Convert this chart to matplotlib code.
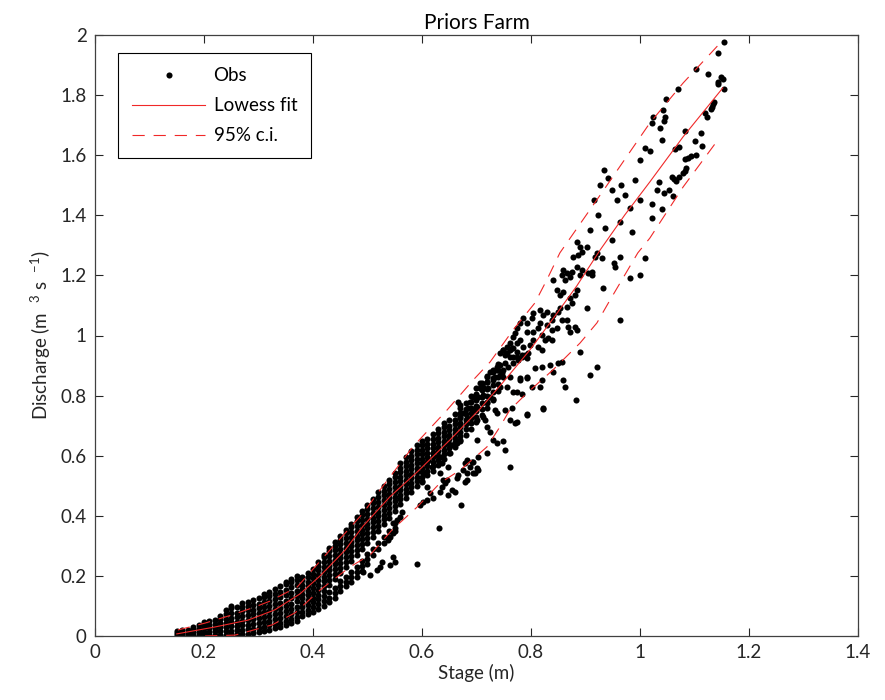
import numpy as np
import matplotlib
matplotlib.use("Agg")
import matplotlib.pyplot as plt

plt.rcParams['font.family'] = ['Lato', 'DejaVu Sans']
plt.rcParams['mathtext.default'] = 'regular'

# Gauged readings at the low end come in 1 cm stage steps: stage -> discharges
stripe_stage = [0.15, 0.16, 0.17, 0.18, 0.19, 0.20, 0.21, 0.22, 0.23, 0.24,
                0.25, 0.26, 0.27, 0.28, 0.29, 0.30, 0.31, 0.32, 0.33, 0.34,
                0.35, 0.36, 0.37, 0.38, 0.39, 0.40, 0.41, 0.42, 0.43, 0.44,
                0.45, 0.46, 0.47, 0.48, 0.49, 0.50, 0.51, 0.52, 0.53, 0.54,
                0.55]
stripe_q = [
    [0.002, 0.010, 0.018],
    [0.002, 0.010, 0.020],
    [0.002, 0.011, 0.021],
    [0.003, 0.012, 0.022, 0.030],
    [0.003, 0.013, 0.024, 0.035],
    [0.003, 0.014, 0.025, 0.036, 0.045],
    [0.003, 0.014, 0.026, 0.038, 0.050],
    [0.004, 0.015, 0.027, 0.040, 0.053],
    [0.004, 0.016, 0.029, 0.042, 0.056, 0.068],
    [0.004, 0.017, 0.030, 0.044, 0.058, 0.072, 0.088],
    [0.005, 0.018, 0.032, 0.046, 0.060, 0.075, 0.092, 0.100],
    [0.005, 0.019, 0.034, 0.048, 0.063, 0.078, 0.095],
    [0.006, 0.020, 0.035, 0.050, 0.066, 0.082, 0.098, 0.110],
    [0.008, 0.022, 0.037, 0.053, 0.069, 0.085, 0.100, 0.114],
    [0.010, 0.024, 0.040, 0.056, 0.072, 0.088, 0.104, 0.120],
    [0.013, 0.027, 0.043, 0.059, 0.076, 0.092, 0.108, 0.125],
    [0.017, 0.031, 0.047, 0.063, 0.080, 0.097, 0.113, 0.130, 0.140],
    [0.021, 0.035, 0.051, 0.067, 0.084, 0.101, 0.118, 0.134, 0.146],
    [0.025, 0.039, 0.055, 0.072, 0.089, 0.106, 0.123, 0.140, 0.155],
    [0.030, 0.044, 0.060, 0.077, 0.094, 0.111, 0.129, 0.147, 0.165],
    [0.035, 0.049, 0.065, 0.082, 0.100, 0.118, 0.136, 0.154, 0.172, 0.180],
    [0.042, 0.056, 0.072, 0.089, 0.107, 0.125, 0.143, 0.162, 0.180, 0.190],
    [0.050, 0.064, 0.080, 0.097, 0.115, 0.133, 0.151, 0.170, 0.188, 0.200],
    [0.065, 0.080, 0.095, 0.110, 0.125, 0.140, 0.155, 0.170, 0.185, 0.198],
    [0.072, 0.088, 0.104, 0.120, 0.135, 0.150, 0.165, 0.180, 0.195, 0.210],
    [0.080, 0.096, 0.112, 0.128, 0.144, 0.160, 0.176, 0.192, 0.207, 0.222],
    [0.090, 0.106, 0.122, 0.138, 0.154, 0.170, 0.186, 0.202, 0.218, 0.234, 0.245],
    [0.100, 0.116, 0.132, 0.150, 0.166, 0.182, 0.198, 0.214, 0.230, 0.246, 0.262, 0.270],
    [0.112, 0.128, 0.145, 0.170, 0.186, 0.202, 0.218, 0.234, 0.250, 0.266, 0.282, 0.292],
    [0.128, 0.144, 0.160, 0.190, 0.206, 0.222, 0.238, 0.254, 0.270, 0.286, 0.300, 0.312],
    [0.150, 0.166, 0.182, 0.210, 0.226, 0.242, 0.258, 0.274, 0.290, 0.306, 0.320, 0.332],
    [0.165, 0.181, 0.197, 0.230, 0.246, 0.262, 0.278, 0.294, 0.310, 0.326, 0.342, 0.352],
    [0.180, 0.196, 0.212, 0.250, 0.266, 0.282, 0.298, 0.314, 0.330, 0.346, 0.362, 0.374],
    [0.195, 0.212, 0.230, 0.270, 0.286, 0.302, 0.318, 0.334, 0.350, 0.366, 0.382, 0.395],
    [0.215, 0.232, 0.250, 0.290, 0.306, 0.322, 0.338, 0.354, 0.370, 0.386, 0.402, 0.415],
    [0.238, 0.255, 0.272, 0.310, 0.326, 0.342, 0.358, 0.374, 0.390, 0.406, 0.422, 0.436],
    [0.270, 0.290, 0.330, 0.346, 0.362, 0.378, 0.394, 0.410, 0.426, 0.442, 0.456],
    [0.290, 0.310, 0.350, 0.366, 0.382, 0.398, 0.414, 0.430, 0.446, 0.462, 0.478],
    [0.310, 0.330, 0.372, 0.388, 0.404, 0.420, 0.436, 0.452, 0.468, 0.484, 0.498],
    [0.330, 0.350, 0.394, 0.410, 0.426, 0.442, 0.458, 0.474, 0.490, 0.506, 0.520],
    [0.350, 0.375, 0.416, 0.432, 0.448, 0.464, 0.480, 0.496, 0.512, 0.528, 0.542],
]

# Core of the cloud between 0.56 and 0.74 m
band_stage = [0.56, 0.57, 0.58, 0.59, 0.60, 0.61, 0.62, 0.63, 0.64, 0.65,
              0.66, 0.67, 0.68, 0.69, 0.70, 0.71, 0.72, 0.73, 0.74]
band_q = [
    [0.440, 0.455, 0.470, 0.485, 0.500, 0.515, 0.530, 0.545, 0.560, 0.575],
    [0.460, 0.475, 0.490, 0.505, 0.520, 0.535, 0.550, 0.565, 0.580, 0.595],
    [0.480, 0.495, 0.510, 0.525, 0.540, 0.555, 0.570, 0.585, 0.600, 0.615],
    [0.500, 0.515, 0.530, 0.545, 0.560, 0.575, 0.590, 0.605, 0.620, 0.635],
    [0.515, 0.530, 0.545, 0.560, 0.575, 0.590, 0.605, 0.620, 0.635, 0.650],
    [0.535, 0.550, 0.565, 0.580, 0.595, 0.610, 0.625, 0.640, 0.655],
    [0.550, 0.565, 0.580, 0.595, 0.610, 0.625, 0.640, 0.655, 0.672],
    [0.570, 0.585, 0.600, 0.615, 0.630, 0.645, 0.660, 0.675, 0.690],
    [0.590, 0.605, 0.620, 0.635, 0.650, 0.665, 0.680, 0.695, 0.710],
    [0.610, 0.625, 0.640, 0.655, 0.670, 0.685, 0.700, 0.720],
    [0.630, 0.645, 0.660, 0.675, 0.690, 0.705, 0.720, 0.738],
    [0.650, 0.665, 0.680, 0.695, 0.710, 0.725, 0.742, 0.758],
    [0.670, 0.688, 0.705, 0.720, 0.738, 0.755, 0.775],
    [0.690, 0.708, 0.725, 0.742, 0.760, 0.780, 0.800],
    [0.712, 0.730, 0.748, 0.765, 0.785, 0.805, 0.825],
    [0.735, 0.755, 0.775, 0.795, 0.818, 0.840],
    [0.760, 0.780, 0.800, 0.822, 0.845, 0.865],
    [0.790, 0.812, 0.835, 0.858, 0.880],
    [0.815, 0.838, 0.862, 0.885, 0.905],
]

# Scattered observations (stage m, discharge m3/s)
mid_stage = [0.749, 0.756, 0.765, 0.774, 0.783, 0.776, 0.767, 0.761, 0.743, 0.752,
             0.738, 0.734, 0.725, 0.719, 0.710, 0.706, 0.721, 0.712, 0.703, 0.725,
             0.730, 0.719, 0.747, 0.780, 0.793, 0.774, 0.752, 0.761, 0.774, 0.694,
             0.688, 0.684, 0.694, 0.701, 0.675, 0.670, 0.683, 0.701, 0.712, 0.666,
             0.670, 0.719, 0.725, 0.730, 0.738, 0.752, 0.719, 0.703, 0.692, 0.688,
             0.683, 0.694, 0.703, 0.679, 0.670, 0.664, 0.655, 0.651, 0.633, 0.637,
             0.648, 0.633, 0.639, 0.620, 0.611, 0.618, 0.606, 0.600, 0.609, 0.761,
             0.822, 0.793, 0.771, 0.765, 0.767, 0.783, 0.749, 0.701, 0.716, 0.734,
             0.738, 0.683, 0.679, 0.694, 0.701, 0.697, 0.675, 0.666, 0.664, 0.683,
             0.646, 0.642, 0.637, 0.633, 0.655, 0.661, 0.648, 0.672, 0.615, 0.620,
             0.609, 0.602, 0.596, 0.631, 0.591, 0.563, 0.560, 0.554, 0.547, 0.550,
             0.547, 0.541, 0.538, 0.550, 0.547, 0.541, 0.527, 0.523, 0.517, 0.505,
             0.492]
mid_q = [0.952, 0.942, 0.958, 0.945, 0.935, 0.918, 0.928, 0.975, 0.902, 0.908,
         0.885, 0.862, 0.879, 0.845, 0.842, 0.825, 0.825, 0.802, 0.795, 0.795,
         0.785, 0.775, 0.875, 0.852, 0.859, 0.812, 0.752, 0.719, 0.712, 0.795,
         0.779, 0.759, 0.752, 0.762, 0.742, 0.729, 0.725, 0.719, 0.729, 0.779,
         0.769, 0.696, 0.679, 0.652, 0.642, 0.619, 0.609, 0.596, 0.579, 0.562,
         0.542, 0.542, 0.552, 0.512, 0.652, 0.642, 0.636, 0.609, 0.596, 0.576,
         0.562, 0.542, 0.519, 0.609, 0.586, 0.562, 0.542, 0.512, 0.496, 0.562,
         0.759, 0.739, 0.709, 0.759, 0.812, 0.805, 0.649, 0.652, 0.719, 0.752,
         0.742, 0.586, 0.576, 0.579, 0.559, 0.542, 0.552, 0.536, 0.526, 0.519,
         0.519, 0.509, 0.496, 0.479, 0.486, 0.479, 0.469, 0.436, 0.476, 0.459,
         0.453, 0.446, 0.436, 0.359, 0.240, 0.413, 0.396, 0.386, 0.376, 0.359,
         0.343, 0.329, 0.319, 0.246, 0.263, 0.236, 0.246, 0.230, 0.220, 0.203,
         0.213]

high_stage = [0.884, 0.890, 0.903, 0.894, 0.886, 0.921, 0.917, 0.930, 0.877, 0.859,
              0.866, 0.875, 0.884, 0.894, 0.890, 0.905, 0.912, 0.912, 0.857, 0.872,
              0.862, 0.840, 0.884, 0.881, 0.872, 0.875, 0.866, 0.853, 0.848, 0.859,
              0.932, 0.903, 0.963, 0.853, 0.850, 0.840, 0.839, 0.829, 0.822, 0.817,
              0.804, 0.802, 0.785, 0.793, 0.780, 0.774, 0.771, 0.767, 0.817, 0.829,
              0.839, 0.848, 0.857, 0.866, 0.868, 0.872, 0.884, 0.881, 0.793, 0.804,
              0.813, 0.820, 0.804, 0.798, 0.785, 0.813, 0.820, 0.826, 0.831, 0.839,
              0.780, 0.774, 0.767, 0.761, 0.756, 0.749, 0.743, 0.752, 0.761, 0.774,
              0.783, 0.789, 0.793, 0.794, 0.767, 0.758, 0.749, 0.738, 0.730, 0.743,
              0.749, 0.761, 0.780, 0.793, 0.802, 0.817, 0.820, 0.820, 0.835, 0.850,
              0.857, 0.840, 0.859, 0.862, 0.890, 0.908, 0.921, 0.719, 0.706, 0.712,
              0.730, 0.743, 0.756, 0.807, 0.982, 0.883, 0.822, 0.793, 0.963, 0.952,
              0.954]
high_q = [1.311, 1.294, 1.294, 1.278, 1.268, 1.275, 1.261, 1.258, 1.261, 1.218,
          1.208, 1.211, 1.228, 1.218, 1.201, 1.208, 1.211, 1.201, 1.201, 1.195,
          1.185, 1.185, 1.151, 1.135, 1.125, 1.108, 1.095, 1.135, 1.151, 1.145,
          1.158, 1.091, 1.052, 1.091, 1.078, 1.068, 1.052, 1.078, 1.068, 1.085,
          1.075, 1.058, 1.058, 1.042, 1.042, 1.025, 1.008, 0.995, 1.042, 1.035,
          1.018, 1.025, 1.052, 1.052, 1.028, 1.012, 1.018, 1.028, 1.012, 1.012,
          1.025, 1.002, 0.985, 0.968, 0.962, 0.962, 0.952, 0.985, 0.992, 0.985,
          0.985, 0.975, 0.958, 0.952, 0.962, 0.952, 0.942, 0.935, 0.928, 0.928,
          0.928, 0.935, 0.925, 0.942, 0.908, 0.895, 0.885, 0.895, 0.885, 0.869,
          0.862, 0.862, 0.859, 0.862, 0.829, 0.829, 0.852, 0.895, 0.902, 0.908,
          0.912, 0.879, 0.852, 0.829, 0.945, 0.869, 0.895, 0.862, 0.842, 0.829,
          0.852, 0.829, 0.829, 0.892, 1.191, 0.785, 0.755, 0.735, 1.261, 1.241,
          1.228]

top_stage = [0.927, 0.934, 0.941, 0.949, 0.958, 0.965, 0.972, 0.982, 0.991, 1.000,
             0.916, 0.923, 0.936, 0.949, 0.908, 0.963, 1.000, 1.009, 0.985, 1.000,
             1.009, 1.154, 1.143, 1.103, 1.125, 1.149, 1.152, 1.143, 1.143, 1.154,
             1.070, 1.048, 1.042, 1.024, 1.022, 1.046, 1.044, 1.037, 1.040, 1.136,
             1.134, 1.132, 1.130, 1.119, 1.123, 1.083, 1.112, 1.101, 1.114, 1.072,
             1.064, 1.103, 1.094, 1.088, 1.083, 1.084, 1.083, 1.079, 1.059, 1.062,
             1.066, 1.072, 1.035, 1.031, 1.044, 1.053, 1.061, 1.022, 1.022, 1.040,
             1.018]
top_q = [1.501, 1.551, 1.524, 1.484, 1.451, 1.501, 1.468, 1.424, 1.517, 1.451,
         1.451, 1.401, 1.358, 1.318, 1.351, 1.378, 1.584, 1.624, 1.344, 1.201,
         1.258, 1.977, 1.940, 1.887, 1.870, 1.860, 1.854, 1.844, 1.837, 1.820,
         1.820, 1.787, 1.750, 1.727, 1.707, 1.727, 1.714, 1.691, 1.651, 1.777,
         1.770, 1.760, 1.754, 1.740, 1.727, 1.681, 1.674, 1.647, 1.631, 1.627,
         1.621, 1.601, 1.597, 1.591, 1.587, 1.557, 1.547, 1.541, 1.527, 1.521,
         1.514, 1.527, 1.511, 1.484, 1.474, 1.484, 1.464, 1.438, 1.391, 1.421,
         1.614]

# Lowess rating curve and its 95% band
fit_stage = [0.150, 0.220, 0.281, 0.330, 0.376, 0.413, 0.459, 0.492, 0.541, 0.593,
             0.651, 0.706, 0.749, 0.798, 0.840, 0.884, 0.927, 0.972, 1.018, 1.079,
             1.152]
fit_q = [0.007, 0.030, 0.053, 0.087, 0.140, 0.200, 0.286, 0.366, 0.463, 0.549,
         0.652, 0.755, 0.845, 0.952, 1.055, 1.165, 1.285, 1.401, 1.511, 1.661,
         1.824]
ci_hi_stage = [0.152, 0.202, 0.251, 0.288, 0.321, 0.371, 0.431, 0.492, 0.523, 0.583,
               0.646, 0.694, 0.725, 0.767, 0.807, 0.829, 0.853, 0.936, 1.018, 1.079,
               1.147]
ci_hi_q = [0.020, 0.043, 0.070, 0.093, 0.116, 0.163, 0.286, 0.409, 0.486, 0.629,
           0.752, 0.852, 0.912, 1.018, 1.108, 1.185, 1.275, 1.491, 1.707, 1.840,
           1.973]
ci_lo_stage = [0.202, 0.257, 0.325, 0.367, 0.413, 0.468, 0.505, 0.545, 0.591, 0.633,
               0.670, 0.719, 0.743, 0.761, 0.793, 0.840, 0.890, 0.921, 0.945, 0.996,
               1.018, 1.079, 1.143]
ci_lo_q = [0.000, 0.003, 0.037, 0.077, 0.153, 0.230, 0.270, 0.353, 0.429, 0.509,
           0.552, 0.629, 0.696, 0.752, 0.809, 0.885, 0.975, 1.042, 1.118, 1.275,
           1.324, 1.494, 1.651]


def expand(stages, groups):
    xs = np.repeat(stages, [len(g) for g in groups])
    ys = np.concatenate([np.asarray(g) for g in groups])
    return xs, ys


sx, sy = expand(stripe_stage, stripe_q)
bx, by = expand(band_stage, band_q)
obs_x = np.concatenate([sx, bx, mid_stage, high_stage, top_stage])
obs_y = np.concatenate([sy, by, mid_q, high_q, top_q])

fig = plt.figure(figsize=(8.85, 7), dpi=100)
ax = fig.add_axes([95 / 885, 64 / 700, 763 / 885, 601 / 700])

red = '#f02828'
ax.plot(obs_x, obs_y, 'o', color='black', markersize=4.4, markeredgewidth=0,
        label='Obs', zorder=2)
ax.plot(fit_stage, fit_q, '-', color=red, lw=0.8, label='Lowess fit', zorder=3)
ax.plot(ci_hi_stage, ci_hi_q, '--', color=red, lw=0.8, dashes=(11, 8),
        label='95% c.i.', zorder=3)
ax.plot(ci_lo_stage, ci_lo_q, '--', color=red, lw=0.8, dashes=(11, 8), zorder=3)

ax.set_xlim(0, 1.4)
ax.set_ylim(0, 2)
ax.set_xticks(np.arange(0, 1.41, 0.2))
ax.set_yticks(np.arange(0, 2.01, 0.2))
ax.set_xticklabels(['0', '0.2', '0.4', '0.6', '0.8', '1', '1.2', '1.4'])
ax.set_yticklabels(['0', '0.2', '0.4', '0.6', '0.8', '1', '1.2', '1.4', '1.6', '1.8', '2'])
ax.tick_params(direction='in', top=True, right=True, length=6, width=0.8,
               labelsize=13.5, colors='#262626', pad=6)
for sp in ax.spines.values():
    sp.set_linewidth(0.9)
    sp.set_color('#404040')

ax.set_xlabel('Stage (m)', fontsize=13.5, color='#262626', labelpad=2)
ax.set_ylabel('Discharge (m  $^{3}$ s  $^{-1}$)', fontsize=13.5, color='#262626', labelpad=5)
ax.set_title('Priors Farm', fontsize=15, color='black', pad=4)

leg = ax.legend(loc='upper left', bbox_to_anchor=(0.03, 0.97), borderaxespad=0,
                numpoints=1, fancybox=False, edgecolor='black', framealpha=1,
                fontsize=13.5, handlelength=3.9, handletextpad=0.45, borderpad=0.75,
                labelspacing=0.7)
leg.get_frame().set_linewidth(0.8)

fig.savefig('out.png', dpi=100)
